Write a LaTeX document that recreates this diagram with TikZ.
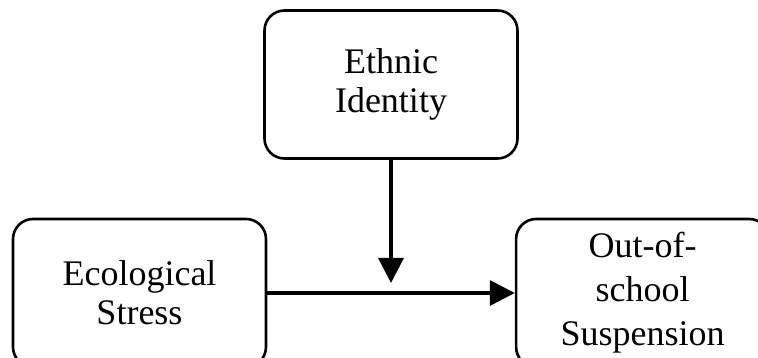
\documentclass[tikz,border=0pt]{standalone}
\usepackage{fontspec}
\setmainfont{Liberation Serif}
\usetikzlibrary{arrows.meta, positioning}

\begin{document}
\begin{tikzpicture}[
    x=1pt, y=1pt,
    node distance=247.5pt,
    box/.style={draw, line width=2.6pt, rounded corners=20pt, align=center, minimum width=253pt, minimum height=148pt, inner sep=0pt, font=\fontsize{36}{39}\selectfont},
    arrow/.style={-{Triangle[length=25pt, width=25pt]}, line width=3.4pt}
]

% Page frame
\useasboundingbox (0,0) rectangle (758,-358);
\clip (0,0) rectangle (758,-358);

% Nodes
\node[box] (ethnic) at (391,-84.5) {Ethnic\\Identity};
\node[box] (ecological) at (139.5,-293) {Ecological\\Stress};
\node[box, font=\fontsize{36}{44}\selectfont] (suspension) [right=of ecological] {Out-of-\\school\\Suspension};

% Moderation point above the main path
\coordinate (moderate) at (391,-283);

% Arrows
\draw[arrow] (ecological) -- (suspension);
\draw[arrow] (ethnic) -- (moderate);

\end{tikzpicture}
\end{document}
